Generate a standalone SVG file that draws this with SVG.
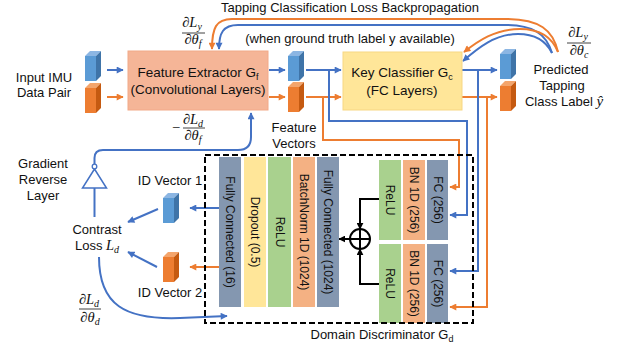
<svg xmlns="http://www.w3.org/2000/svg" xmlns:xlink="http://www.w3.org/1999/xlink" width="628" height="349" viewBox="0 0 628 349">
  <style>
    .lbl { font-family: "Liberation Sans", Arial, sans-serif; font-size: 13px; fill: #111; }
    .box { font-family: "Liberation Sans", Arial, sans-serif; font-size: 13.5px; fill: #111; text-anchor: middle; }
    .blk { font-family: "Liberation Sans", Arial, sans-serif; font-size: 12px; fill: #111; text-anchor: middle; dominant-baseline: central; }
    .m { font-family: "Liberation Serif", "Times New Roman", serif; font-size: 14.5px; font-style: italic; fill: #111; text-anchor: middle; }
    .sb { font-size: 10px; }
    .c { text-anchor: middle; }
    .wb { fill: none; stroke: #4472c4; stroke-width: 2; }
    .wo { fill: none; stroke: #ed7d31; stroke-width: 2; }
    .wk { fill: none; stroke: #000; stroke-width: 2; }
    .ab { marker-end: url(#ahB); }
    .ao { marker-end: url(#ahO); }
    .ak { marker-end: url(#ahK); }
    .bar { stroke: #111; stroke-width: 0.8; }
    .slate { fill: #8497b0; }
    .yel { fill: #ffe699; }
    .grn { fill: #a9d18e; }
    .org { fill: #f4b183; }
  </style>
  <defs>
    <marker id="ahB" viewBox="0 0 10 10" refX="9" refY="5" markerUnits="userSpaceOnUse" markerWidth="8" markerHeight="7" orient="auto">
      <path d="M0,0 L10,5 L0,10 Z" fill="#4472c4"/>
    </marker>
    <marker id="ahO" viewBox="0 0 10 10" refX="9" refY="5" markerUnits="userSpaceOnUse" markerWidth="8" markerHeight="7" orient="auto">
      <path d="M0,0 L10,5 L0,10 Z" fill="#ed7d31"/>
    </marker>
    <marker id="ahK" viewBox="0 0 10 10" refX="9" refY="5" markerUnits="userSpaceOnUse" markerWidth="7" markerHeight="7" orient="auto">
      <path d="M0,0 L10,5 L0,10 Z" fill="#000"/>
    </marker>
    <symbol id="cubeB" viewBox="0 0 16 30" width="16" height="30">
      <rect x="0" y="5" width="11" height="25" fill="#5b9bd5"/>
      <polygon points="0,5 5,0 16,0 11,5" fill="#8cb6e3"/>
      <polygon points="11,5 16,0 16,25 11,30" fill="#3f74a8"/>
    </symbol>
    <symbol id="cubeO" viewBox="0 0 16 30" width="16" height="30">
      <rect x="0" y="5" width="11" height="25" fill="#ed7d31"/>
      <polygon points="0,5 5,0 16,0 11,5" fill="#f4a56c"/>
      <polygon points="11,5 16,0 16,25 11,30" fill="#c55a11"/>
    </symbol>
  </defs>

  <!-- connectors -->
  <g id="connectors">
    <!-- forward pass -->
    <line class="wb ab" x1="107" y1="70" x2="123" y2="70"/>
    <line class="wo ao" x1="107" y1="97" x2="123" y2="97"/>
    <line class="wb ab" x1="269" y1="70" x2="285" y2="70"/>
    <line class="wo ao" x1="269" y1="97" x2="285" y2="97"/>
    <line class="wb ab" x1="306" y1="70" x2="341" y2="70"/>
    <line class="wo ao" x1="306" y1="97" x2="341" y2="97"/>
    <line class="wb ab" x1="462" y1="70" x2="497" y2="70"/>
    <line class="wo ao" x1="462" y1="97" x2="497" y2="97"/>
    <!-- feature vectors into the discriminator -->
    <path class="wb ab" d="M329,70 V121 H467 V215 H450"/>
    <path class="wo ao" d="M323,97 V140 H459 V187 H450"/>
    <!-- classifier outputs into the discriminator -->
    <path class="wb ab" d="M478,70 V271 H450"/>
    <path class="wo ao" d="M487,97 V307 H450"/>
    <!-- classification loss backpropagation -->
    <path class="wo ao" d="M558,52 C553,30 540,19 505,19 L232,19 C216,19 212,28 212,49"/>
    <path class="wb ab" d="M552,53 C546,33 532,25 505,25 L238,25 C223,25 219,33 219,49"/>
    <path class="wo ao" d="M558,52 C552,37 540,29 520,29 C495,29 478,41 464,52"/>
    <path class="wb ab" d="M552,53 C546,41 535,34 518,34 C495,34 478,48 463,61"/>
    <!-- ID vectors and contrast loss -->
    <line class="wb ab" x1="219" y1="208" x2="190" y2="208"/>
    <line class="wo ao" x1="219" y1="267" x2="190" y2="267"/>
    <line class="wb ab" x1="158" y1="209" x2="128" y2="222"/>
    <line class="wb ab" x1="157" y1="267" x2="128" y2="252"/>
    <path class="wb ab" d="M99,257 C99,305 125,320 180,318 L227,316"/>
    <!-- gradient reverse path -->
    <line class="wb" x1="94.5" y1="217" x2="94.5" y2="188"/>
    <path class="wb ab" d="M94.5,164 V158 Q94.5,150 103,150 H238 Q251,150 251,137 V113"/>
    <!-- residual merge -->
    <path class="wk ak" d="M379,199 H360 V229"/>
    <path class="wk ak" d="M379,284 H360 V249"/>
    <line class="wk ak" x1="350" y1="239" x2="339" y2="239"/>
  </g>

  <!-- input pair -->
  <g id="input">
    <use xlink:href="#cubeB" x="85" y="51"/>
    <use xlink:href="#cubeO" x="85" y="83"/>
    <text class="lbl c" x="44" y="82">Input IMU</text>
    <text class="lbl c" x="44" y="97">Data Pair</text>
  </g>

  <!-- feature extractor -->
  <g id="feature-extractor">
    <rect x="128" y="51" width="140" height="59" fill="#f5b597" stroke="#f2a988" stroke-width="1"/>
    <text class="box" x="198" y="77">Feature Extractor G<tspan font-size="9" dy="3">f</tspan></text>
    <text class="box" x="198" y="94">(Convolutional Layers)</text>
  </g>

  <!-- feature vectors -->
  <g id="feature-vectors">
    <use xlink:href="#cubeB" x="288" y="51"/>
    <use xlink:href="#cubeO" x="288" y="82"/>
    <text class="lbl c" x="294" y="132">Feature</text>
    <text class="lbl c" x="294" y="148">Vectors</text>
  </g>

  <!-- key classifier -->
  <g id="key-classifier">
    <rect x="343" y="52" width="119" height="58" fill="#ffe699" stroke="#f7d783" stroke-width="1"/>
    <text class="box" x="402" y="77">Key Classifier G<tspan font-size="9" dy="3">c</tspan></text>
    <text class="box" x="402" y="95">(FC Layers)</text>
  </g>

  <!-- predicted label -->
  <g id="prediction">
    <use xlink:href="#cubeB" x="500" y="49"/>
    <use xlink:href="#cubeO" x="500" y="81"/>
    <text class="lbl c" x="561" y="74">Predicted</text>
    <text class="lbl c" x="562" y="90">Tapping</text>
    <text class="lbl c" x="564" y="106">Class Label <tspan font-family="Liberation Serif, serif" font-style="italic" font-size="15">ŷ</tspan></text>
  </g>

  <!-- backpropagation labels -->
  <g id="backprop-labels">
    <text class="lbl c" x="350" y="12">Tapping Classification Loss Backpropagation</text>
    <text class="lbl c" x="350" y="43">(when ground truth label y available)</text>
    <text class="m" x="192" y="27">∂L<tspan class="sb" dy="3">y</tspan></text>
    <line class="bar" x1="182" y1="33" x2="205" y2="33"/>
    <text class="m" x="193" y="44">∂θ<tspan class="sb" dy="3">f</tspan></text>
    <text class="m" x="578" y="37">∂L<tspan class="sb" dy="3">y</tspan></text>
    <line class="bar" x1="567" y1="43" x2="591" y2="43"/>
    <text class="m" x="579" y="55">∂θ<tspan class="sb" dy="3">c</tspan></text>
    <text class="m" x="176" y="132" font-style="normal">−</text>
    <text class="m" x="193" y="124">∂L<tspan class="sb" dy="3">d</tspan></text>
    <line class="bar" x1="183" y1="128" x2="205" y2="128"/>
    <text class="m" x="193" y="140">∂θ<tspan class="sb" dy="3">f</tspan></text>
    <text class="m" x="89" y="304">∂L<tspan class="sb" dy="3">d</tspan></text>
    <line class="bar" x1="79" y1="309" x2="101" y2="309"/>
    <text class="m" x="90" y="322">∂θ<tspan class="sb" dy="3">d</tspan></text>
  </g>

  <!-- gradient reverse layer -->
  <g id="gradient-reverse">
    <polygon points="94.5,169 82.5,188 106.5,188" fill="#fff" stroke="#4472c4" stroke-width="1.5"/>
    <circle cx="94.5" cy="166.5" r="2.3" fill="#fff" stroke="#4472c4" stroke-width="1.3"/>
    <text class="lbl c" x="43" y="168">Gradient</text>
    <text class="lbl c" x="43" y="184">Reverse</text>
    <text class="lbl c" x="43" y="200">Layer</text>
  </g>

  <!-- contrast loss -->
  <g id="contrast-loss">
    <text class="lbl c" x="97" y="234">Contrast</text>
    <text class="lbl c" x="97" y="250">Loss <tspan font-family="Liberation Serif, serif" font-style="italic" font-size="14.5">L</tspan><tspan font-family="Liberation Serif, serif" font-style="italic" font-size="10" dy="3">d</tspan></text>
  </g>

  <!-- ID vectors -->
  <g id="id-vector-1">
    <use xlink:href="#cubeB" x="163" y="193"/>
    <text class="lbl c" x="170" y="185">ID Vector 1</text>
  </g>
  <g id="id-vector-2">
    <use xlink:href="#cubeO" x="163" y="252"/>
    <text class="lbl c" x="170" y="297">ID Vector 2</text>
  </g>

  <!-- domain discriminator -->
  <g id="domain-discriminator">
    <g id="fc16">
      <rect class="slate" x="219" y="157" width="22" height="150"/>
      <text class="blk" x="230" y="232" transform="rotate(90 230 232)">Fully Connected (16)</text>
    </g>
    <g id="dropout">
      <rect class="yel" x="244" y="157" width="22" height="150"/>
      <text class="blk" x="255" y="232" transform="rotate(90 255 232)">Dropout (0.5)</text>
    </g>
    <g id="relu-1024">
      <rect class="grn" x="268" y="157" width="23" height="150"/>
      <text class="blk" x="279.5" y="232" transform="rotate(90 279.5 232)">ReLU</text>
    </g>
    <g id="bn1024">
      <rect class="org" x="293" y="157" width="22" height="150"/>
      <text class="blk" x="304" y="232" transform="rotate(90 304 232)">BatchNorm 1D (1024)</text>
    </g>
    <g id="fc1024">
      <rect class="slate" x="317" y="157" width="22" height="150"/>
      <text class="blk" x="328" y="232" transform="rotate(90 328 232)">Fully Connected (1024)</text>
    </g>
    <g id="sum">
      <circle cx="360" cy="239" r="10" fill="#fff" stroke="#000" stroke-width="2"/>
      <line x1="350" y1="239" x2="370" y2="239" stroke="#000" stroke-width="2"/>
      <line x1="360" y1="229" x2="360" y2="249" stroke="#000" stroke-width="2"/>
    </g>
    <g id="branch-top">
      <rect class="grn" x="379" y="160" width="22" height="80"/>
      <text class="blk" x="390" y="200" transform="rotate(90 390 200)">ReLU</text>
      <rect class="org" x="403" y="160" width="22" height="80"/>
      <text class="blk" x="414" y="200" transform="rotate(90 414 200)">BN 1D (256)</text>
      <rect class="slate" x="427" y="160" width="21" height="80"/>
      <text class="blk" x="437.5" y="200" transform="rotate(90 437.5 200)">FC (256)</text>
    </g>
    <g id="branch-bottom">
      <rect class="grn" x="379" y="244" width="22" height="79"/>
      <text class="blk" x="390" y="283.5" transform="rotate(90 390 283.5)">ReLU</text>
      <rect class="org" x="403" y="244" width="22" height="79"/>
      <text class="blk" x="414" y="283.5" transform="rotate(90 414 283.5)">BN 1D (256)</text>
      <rect class="slate" x="427" y="244" width="21" height="79"/>
      <text class="blk" x="437.5" y="283.5" transform="rotate(90 437.5 283.5)">FC (256)</text>
    </g>
    <rect x="205" y="155" width="268" height="168" fill="none" stroke="#000" stroke-width="2" stroke-dasharray="6 3"/>
    <text class="lbl c" x="382" y="339">Domain Discriminator G<tspan font-size="9" dy="3">d</tspan></text>
  </g>
</svg>
